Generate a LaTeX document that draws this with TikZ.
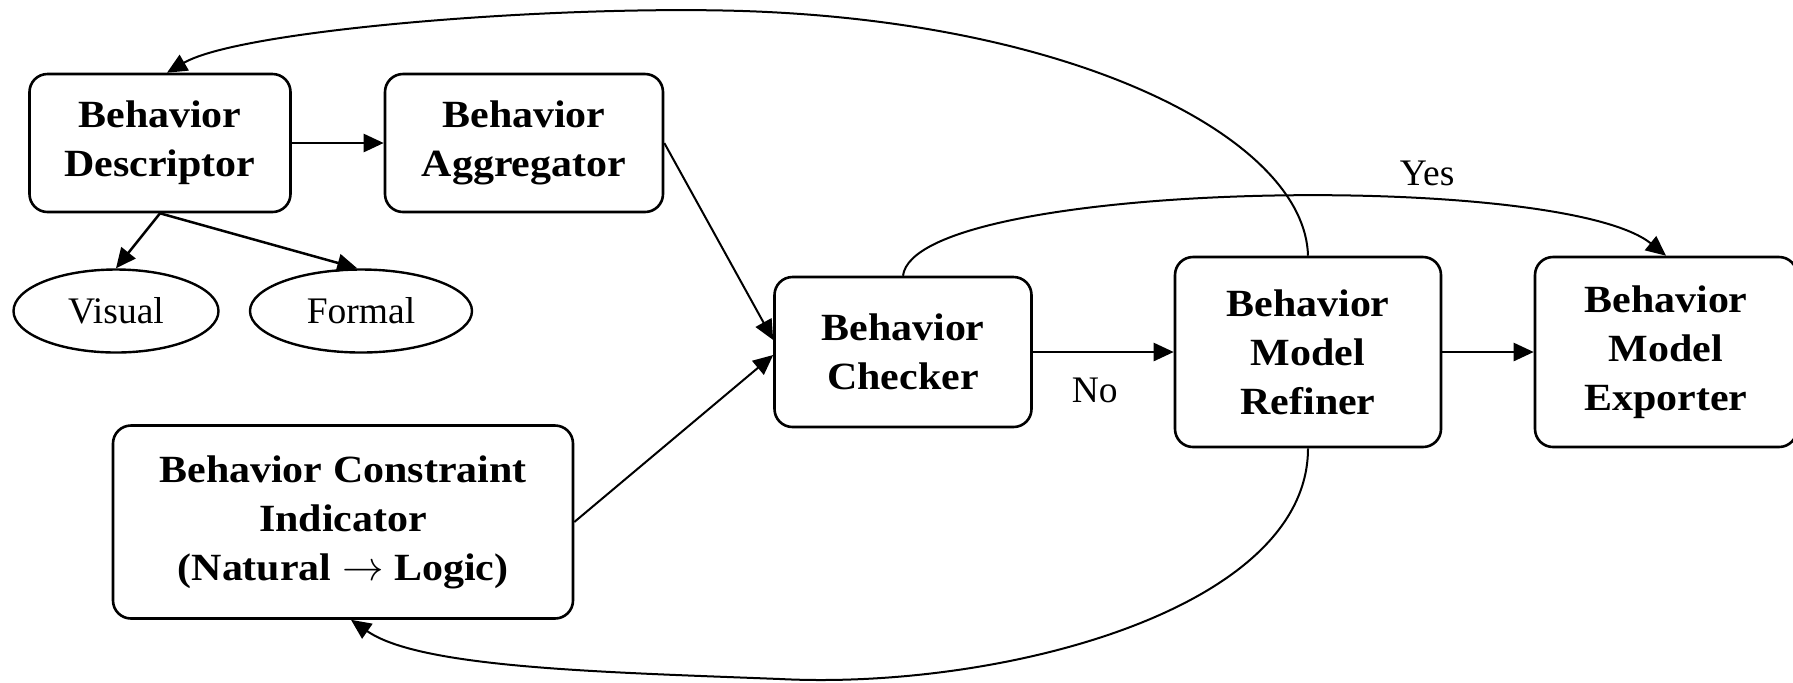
\documentclass[tikz,border=0pt]{standalone}
\usepackage{fontspec}
\setmainfont{Liberation Serif}
\newfontfamily\boxfont{Liberation Serif}[FakeStretch=1.09]
\usetikzlibrary{arrows.meta,shapes.geometric}

\begin{document}
\begin{tikzpicture}[x=0.5pt,y=-0.5pt,
  box/.style={draw,line width=1.3pt,rounded corners=9pt,align=center,inner sep=0pt,
    font=\boxfont\bfseries\fontsize{19.25}{24.5}\selectfont},
  oval/.style={draw,ellipse,line width=1.2pt,inner sep=0pt,
    font=\fontsize{18.75}{22}\selectfont},
  arr/.style={line width=1.25pt,-{Triangle[length=10pt,width=9pt]}},
  thinarr/.style={line width=1pt,-{Triangle[length=10pt,width=9pt]}},
  lbl/.style={font=\fontsize{18.75}{22}\selectfont}]
\useasboundingbox (0,0) rectangle (1793,682);

% components
\node[box,minimum width=130.5pt,minimum height=69pt] (desc) at (160,143) {Behavior\\Descriptor};
\node[box,minimum width=139pt,minimum height=69pt] (agg) at (524,143) {Behavior\\Aggregator};
\node[oval,minimum width=102.5pt,minimum height=41.5pt] (vis) at (116,311) {Visual};
\node[oval,minimum width=111pt,minimum height=41.5pt] (form) at (361,311) {Formal};
\node[box,minimum width=128.5pt,minimum height=75pt] (chk) at (903,352) {Behavior\\Checker};
\node[box,minimum width=133pt,minimum height=95pt] (ref) at (1308,352) {Behavior\\Model\\Refiner};
\node[box,minimum width=131pt,minimum height=95pt] (exp) at (1666,352) {Behavior\\Model\\Exporter};
\node[box,minimum width=230pt,minimum height=96.5pt] (con) at (343,522)
  {Behavior Constraint\\Indicator\\(Natural $\rightarrow$ Logic)};

% straight connectors
\draw[arr] (desc.east) -- (agg.west);
\draw[arr] (desc.south) -- (vis.north);
\draw[arr] (desc.south) -- (form.95);
\draw[thinarr] (agg.east) -- ([yshift=6pt]chk.west);
\draw[thinarr] (con.east) -- ([yshift=-1.5pt]chk.west);
\draw[arr] (chk.east) -- (ref.west) node[lbl,pos=0.44,yshift=-19pt] {No};
\draw[arr] (ref.east) -- (exp.west);

% accepted model goes straight to the exporter
\draw[thinarr] (chk.north) .. controls (915,180) and (1560,170) .. (exp.north)
  node[lbl,pos=0.67,yshift=14pt] {Yes};

% feedback loops from the refiner
\draw[thinarr] (ref.north) .. controls (1305,140) and (1080,22) .. (743,11)
  .. controls (550,5) and (240,30) .. ([xshift=3.5pt]desc.north);
\draw[thinarr] (ref.south) .. controls (1308,610) and (1000,690) .. (780,679)
  .. controls (600,672) and (420,668) .. ([xshift=4pt]con.south);
\end{tikzpicture}
\end{document}
